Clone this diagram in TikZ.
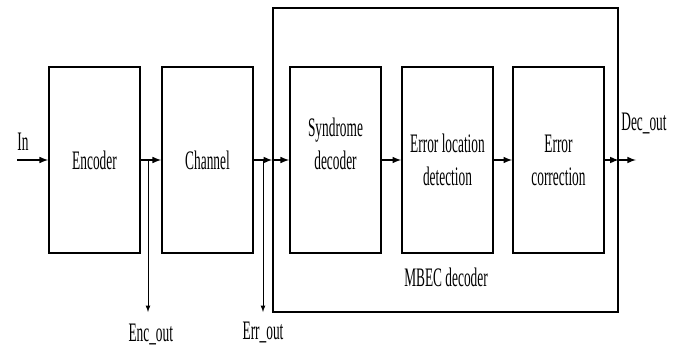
\documentclass[tikz,border=0pt]{standalone}
\usepackage{fontspec}
\setmainfont{Liberation Serif}[FakeStretch=0.5]
\usetikzlibrary{positioning}

\tikzset{
	block/.style={draw, line width=1.3pt, minimum width=2.275cm, minimum height=4.65cm, align=center, inner sep=0pt},
	outer/.style={draw, line width=1pt, minimum width=8.625cm, minimum height=7.6cm, inner sep=0pt},
	sig/.style={line width=1.1pt, -latex},
	tap/.style={line width=0.6pt, -latex},
	lbl/.style={inner sep=0pt}
}

\begin{document}
\begin{tikzpicture}[x=0.025cm, y=-0.025cm, font=\fontsize{19}{23.4}\selectfont]
\useasboundingbox (0,0) rectangle (678,348);

% decoder frame
\node[outer] (mbec) at (445.5,160) {};
\node[lbl] (mbeclbl) at (446,277) {MBEC decoder};

% blocks
\node[block] (enc) at (94.5,160) {Encoder};
\node[block] (chan) at (207.5,160) {Channel};
\node[block] (syn) at (335.5,160) {Syndrome\\decoder\\ \mbox{}};
\node[block] (loc) at (447.5,160) {Error location\\detection};
\node[block] (cor) at (558.5,160) {Error\\correction};

% ports
\coordinate (in) at (17,160);
\coordinate (out) at (636,160);
\coordinate (encb) at (148,160);
\coordinate (errb) at (263,160);
\coordinate (encend) at (148,312);
\coordinate (errend) at (263,312);

% signal path
\draw[sig] (in) -- (enc.west);
\draw[sig] (enc.east) -- (chan.west);
\draw[sig] (chan.east) -- (mbec.west);
\draw[sig] (mbec.west) -- (syn.west);
\draw[sig] (syn.east) -- (loc.west);
\draw[sig] (loc.east) -- (cor.west);
\draw[sig] (cor.east) -- (mbec.east);
\draw[sig] (mbec.east) -- (out);

% taps
\draw[tap] (encb) -- (encend);
\draw[tap] (errb) -- (errend);

\node[lbl] (inlbl) at (23,142) {In};
\node[lbl, below=0.3cm of encend, xshift=0.07cm] (enclbl) {Enc\_out};
\node[lbl, below=0.25cm of errend] (errlbl) {Err\_out};
\node[lbl] (declbl) at (644,123) {Dec\_out};
\end{tikzpicture}
\end{document}
